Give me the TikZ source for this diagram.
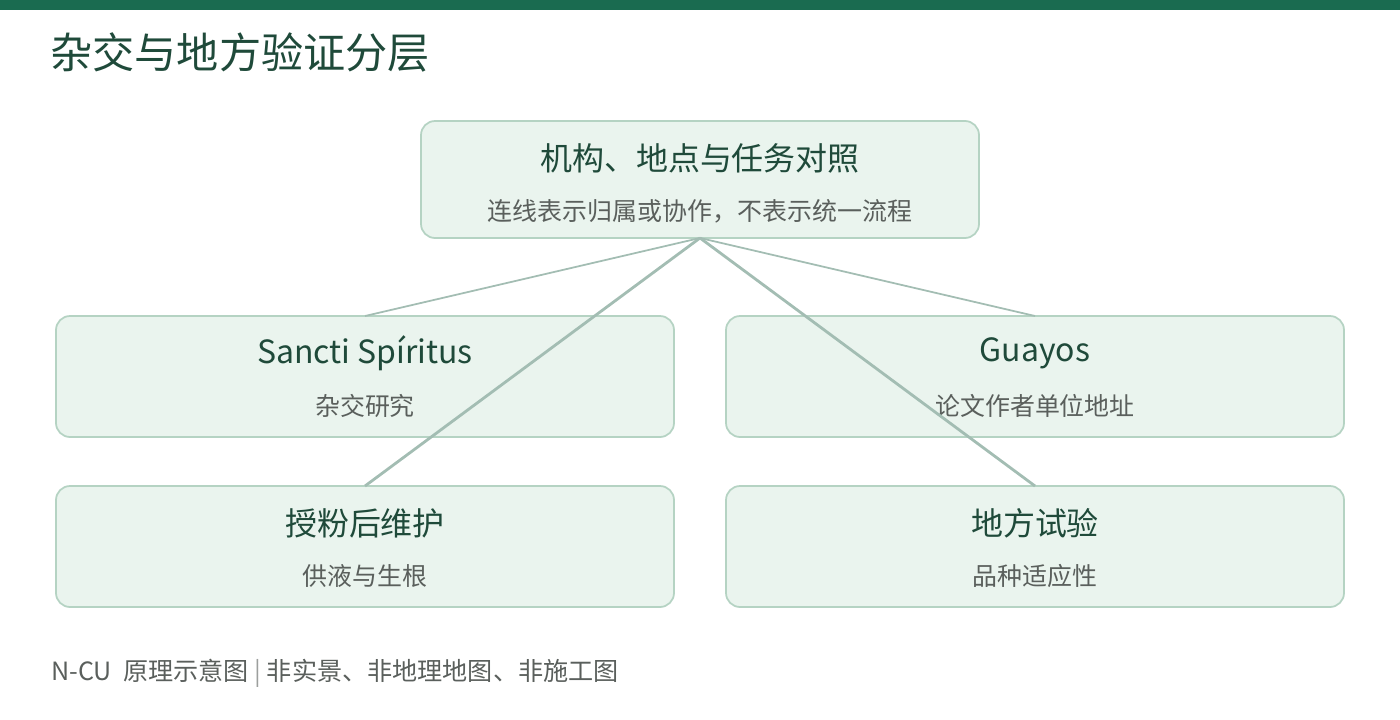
\documentclass[tikz,border=0pt]{standalone}
\usepackage{fontspec}
\setmainfont{Noto Sans CJK SC}
\definecolor{barGreen}{HTML}{1A6B50}
\definecolor{titleGreen}{HTML}{1F4A3A}
\definecolor{boxFill}{HTML}{EAF4EE}
\definecolor{boxLine}{HTML}{B5D3C3}
\definecolor{linkLine}{HTML}{A3BDB3}
\definecolor{subGrey}{HTML}{5A5F5C}
\tikzset{
    card/.style={draw=boxLine, fill=boxFill, line width=1pt, rounded corners=8pt},
    cardTitle/.style={text=titleGreen, font=\fontsize{18.2}{20}\selectfont},
    cardSub/.style={text=subGrey, font=\fontsize{14.2}{16}\selectfont},
    link/.style={draw=linkLine, line width=1pt}
}
\begin{document}
\begin{tikzpicture}[x=0.02cm, y=-0.02cm]
        \useasboundingbox (0,0) rectangle (1400,720);
        \fill[barGreen] (0,0) rectangle (1400,10);
        \node[anchor=west, inner sep=0pt, text=titleGreen, font=\fontsize{24}{26}\selectfont] (title) at (50,52) {杂交与地方验证分层};

        % cards
        \draw[card] (421,121) rectangle (979,238);
        \coordinate (top) at (700,238);
        \node[cardTitle] (topT) at (700,158) {机构、地点与任务对照};
        \node[cardSub] (topS) at (700,211) {连线表示归属或协作，不表示统一流程};

        \def\cardW{618}
        \foreach \x/\y/\name/\head/\sub in {56/316/ss/Sancti Spíritus/杂交研究, 726/316/gy/Guayos/论文作者单位地址, 56/486/pm/授粉后维护/供液与生根, 726/486/lt/地方试验/品种适应性} {
                \draw[card] (\x,\y) rectangle (\x+\cardW,\y+121);
                \coordinate (\name) at (\x+\cardW/2,\y);
                \node[cardTitle] at (\x+\cardW/2,\y+37) {\head};
                \node[cardSub] at (\x+\cardW/2,\y+90) {\sub};
            }

        % links
        \draw[link] (top) -- (ss);
        \draw[link] (top) -- (gy);
        \draw[link, line width=1.6pt] (top) -- (pm);
        \draw[link, line width=1.6pt] (top) -- (lt);

        \node[anchor=west, inner sep=0pt, text=subGrey, font=\fontsize{14.3}{16}\selectfont] (foot) at (51,673) {N-CU\ \ 原理示意图\ \textcolor{subGrey!60}{|}\ 非实景、非地理地图、非施工图};
    \end{tikzpicture}
\end{document}
